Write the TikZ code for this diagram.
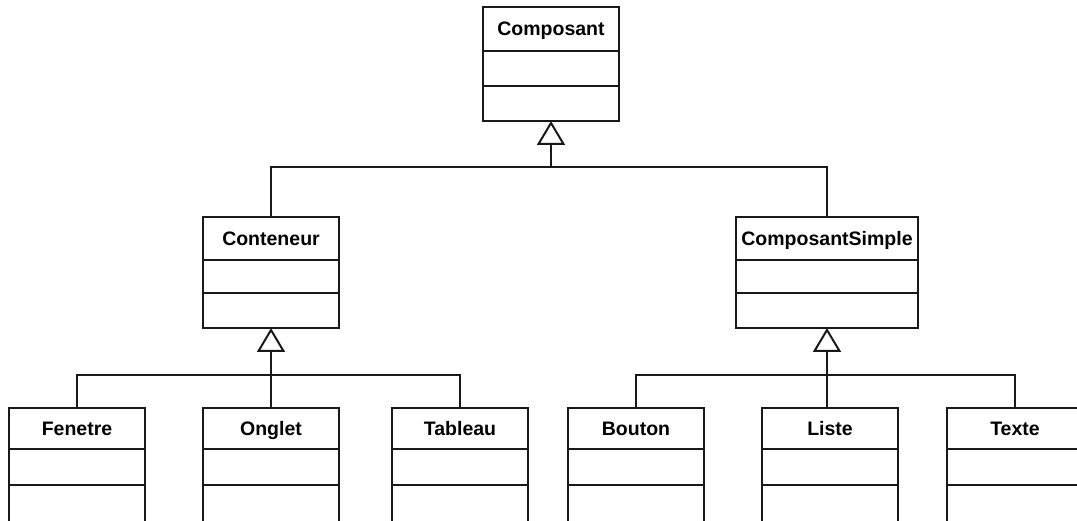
\documentclass[tikz,border=0pt]{standalone}
\usepackage{fontspec}
\setmainfont{Liberation Sans}
\usetikzlibrary{arrows.meta}

\tikzset{
  box/.style={draw=black!90, line width=2pt, inner sep=0pt, outer sep=0pt, anchor=north, fill=white},
  head/.style={box, minimum height=#1, text height=14pt, text depth=0pt,
               font=\bfseries\fontsize{19.5}{20}\selectfont},
  part/.style={box, minimum height=#1},
  wide/.style={minimum width=136pt},
  wider/.style={minimum width=182pt},
  link/.style={draw=black!90, line width=2pt},
  gen/.style={link, -{Triangle[open, length=24pt, width=28pt, line width=2pt, fill=white]}},
}

\begin{document}
\begin{tikzpicture}[x=1pt, y=-1pt]
\useasboundingbox (0,0) rectangle (1077,521);
\clip (0,0) rectangle (1077,521);

% root class
\node[head=44pt, wide] (comp) at (551,7) {Composant};
\node[part=35pt, wide] (compA) at (comp.south) {};
\node[part=35pt, wide] (compB) at (compA.south) {};

% intermediate classes
\node[head=43pt, wide] (cont) at (271,217) {Conteneur};
\node[part=33pt, wide] (contA) at (cont.south) {};
\node[part=35pt, wide] (contB) at (contA.south) {};

\node[head=43pt, wider] (simple) at (827,217) {ComposantSimple};
\node[part=33pt, wider] (simpleA) at (simple.south) {};
\node[part=35pt, wider] (simpleB) at (simpleA.south) {};

% leaf classes
\foreach \n/\t/\x in {fen/Fenetre/77, ong/Onglet/271, tab/Tableau/460,
                      bout/Bouton/636, list/Liste/830, txt/Texte/1015}{
  \node[head=41pt, wide] (\n) at (\x,408) {\t};
  \node[part=36pt, wide] (\n A) at (\n.south) {};
  \node[part=40pt, wide] (\n B) at (\n A.south) {};
}

% inheritance junctions
\coordinate (j0) at (551,167);
\coordinate (j1) at (271,375);
\coordinate (j2) at (827,375);

\draw[link] (cont.north) |- (j0) -| (simple.north);
\draw[gen] (j0) -- (compB.south);

\draw[link] (fen.north) |- (j1) -| (tab.north);
\draw[link] (ong.north) -- (j1);
\draw[gen] (j1) -- (contB.south);

\draw[link] (bout.north) |- (j2) -| (txt.north);
\draw[link] (j2) -- (j2 |- list.north);
\draw[gen] (j2) -- (simpleB.south);
\end{tikzpicture}
\end{document}
